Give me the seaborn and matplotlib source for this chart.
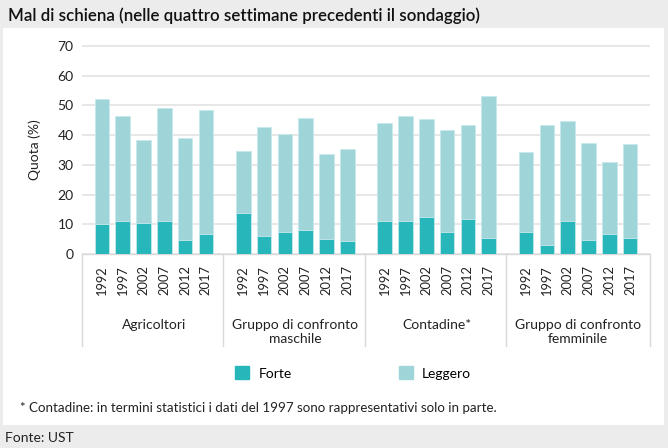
import numpy as np
import pandas as pd
import matplotlib.pyplot as plt
import matplotlib.patches as mpatches
import matplotlib.transforms as mtransforms
import seaborn as sns

# ---------------------- dati ----------------------
gruppi = ["Agricoltori", "Gruppo di confronto\nmaschile", "Contadine*",
          "Gruppo di confronto\nfemminile"]
anni = ["1992", "1997", "2002", "2007", "2012", "2017"]

forte_agricoltori = [10.1, 11.0, 10.4, 11.0, 4.8, 6.7]
totale_agricoltori = [52.1, 46.5, 38.5, 49.2, 39.1, 48.4]
forte_masch = [13.7, 6.0, 7.4, 8.1, 4.9, 4.3]
totale_masch = [34.7, 42.8, 40.3, 45.8, 33.5, 35.4]
forte_contadine = [11.0, 11.0, 12.3, 7.5, 11.7, 5.4]
totale_contadine = [44.0, 46.5, 45.3, 41.6, 43.5, 53.3]
forte_femm = [7.5, 3.0, 11.0, 4.8, 6.8, 5.4]
totale_femm = [34.2, 43.5, 44.7, 37.5, 30.8, 37.0]

COL_FORTE = "#27b6ba"
COL_LEGGERO = "#9fd5d9"
BG = "#ececec"

plt.rcParams['font.family'] = ['Lato', 'DejaVu Sans']

# ---------------------- tabella ----------------------
passo = 6.8
righe = []
for g, (fo, to) in enumerate([(forte_agricoltori, totale_agricoltori),
                              (forte_masch, totale_masch),
                              (forte_contadine, totale_contadine),
                              (forte_femm, totale_femm)]):
    for i, anno in enumerate(anni):
        righe.append({"pos": g * passo + i, "anno": anno, "gruppo": gruppi[g],
                      "forte": fo[i], "totale": to[i]})
df = pd.DataFrame(righe)

# ---------------------- figura ----------------------
fig = plt.figure(figsize=(6.68, 4.48), dpi=100, facecolor=BG)
W, H = 668, 448
fig.patches.append(mpatches.Rectangle((3 / W, (H - 425) / H), 661 / W, 397 / H,
                                      transform=fig.transFigure, facecolor="white",
                                      edgecolor="none", zorder=-5))

ax = fig.add_axes([82 / W, (H - 254) / H, 568 / W, 209 / H])
ax.set_facecolor("white")

sns.barplot(data=df, x="pos", y="totale", native_scale=True, width=0.7,
            color=COL_LEGGERO, saturation=1, edgecolor="#c8eaec", linewidth=0.6,
            ax=ax, zorder=2)
sns.barplot(data=df, x="pos", y="forte", native_scale=True, width=0.7,
            color=COL_FORTE, saturation=1, edgecolor="#c8eaec", linewidth=0.6,
            ax=ax, zorder=3)

ax.set_xlim(-0.96, 3 * passo + 5 + 0.96)
ax.set_ylim(0, 70.3)
ax.set_yticks(range(0, 71, 10))
ax.yaxis.grid(True, color="#e3e3e3", linewidth=1.2, zorder=0)
ax.set_axisbelow(True)
for s in ["top", "right", "left"]:
    ax.spines[s].set_visible(False)
ax.spines["bottom"].set_color("#d9d9d9")
ax.spines["bottom"].set_linewidth(1)

ax.set_xticks(df["pos"])
ax.set_xticklabels(df["anno"], rotation=90, fontsize=9.3, color="#222222")
ax.tick_params(axis="x", length=0, pad=8)
ax.tick_params(axis="y", length=0, pad=6, labelsize=10, labelcolor="#222222")
ax.set_xlabel("")
ax.set_ylabel("Quota (%)", fontsize=10, color="#222222", labelpad=12)

# etichette di gruppo e separatori
trans = mtransforms.blended_transform_factory(ax.transData, ax.transAxes)
for g, nome in enumerate(gruppi):
    ax.text(g * passo + 2.5, -0.31, nome, transform=trans, ha="center", va="top",
            fontsize=10, color="#222222", linespacing=1.2)
for g in range(5):
    x = g * passo - 0.96 if g < 4 else 3 * passo + 5 + 0.96
    ax.plot([x, x], [0, -0.44], transform=trans, color="#d9d9d9", linewidth=1,
            clip_on=False)

# titolo, legenda, note
fig.text(8 / W, 1 - 16 / H, "Mal di schiena (nelle quattro settimane precedenti il sondaggio)",
         fontsize=12.2, fontweight="semibold", va="center", ha="left", color="#111111")

handles = [mpatches.Patch(color=COL_FORTE, label="Forte"),
           mpatches.Patch(color=COL_LEGGERO, label="Leggero")]
fig.legend(handles=handles, loc="center", bbox_to_anchor=(353 / W, 1 - 373 / H),
           ncol=2, frameon=False, fontsize=10, handlelength=1.05, handleheight=1.05,
           handletextpad=0.65, columnspacing=7.7)

fig.text(20 / W, 1 - 408 / H,
         "* Contadine: in termini statistici i dati del 1997 sono rappresentativi solo in parte.",
         fontsize=9.6, va="center", ha="left", color="#222222")
fig.text(5 / W, 1 - 438 / H, "Fonte: UST", fontsize=10, va="center", ha="left",
         color="#222222")

fig.savefig("out.png", dpi=100, facecolor=BG)
